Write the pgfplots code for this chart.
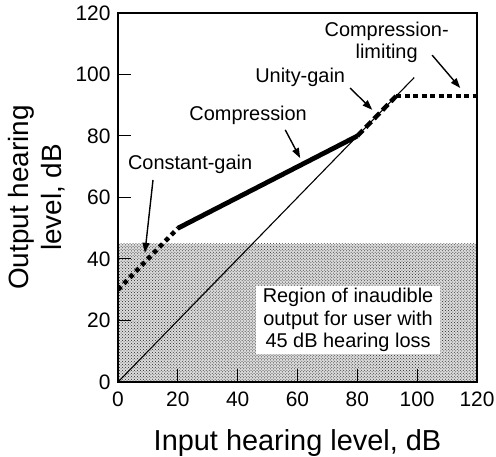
\documentclass[border=0pt]{standalone}
\usepackage{fontspec}
\setmainfont{Liberation Sans}
\usepackage{pgfplots}
\pgfplotsset{compat=1.18}
\usetikzlibrary{patterns,arrows.meta}

\begin{document}
\begin{tikzpicture}
\path[use as bounding box] (-118bp,-75bp) rectangle (378bp,382bp);
\begin{axis}[
  at={(0,0)}, anchor=south west,
  scale only axis, width=359bp, height=369bp,
  xmin=0, xmax=120, ymin=0, ymax=120,
  xtick={0,20,...,120}, ytick={0,20,...,120},
  tick pos=left, tick align=inside,
  major tick length=13bp,
  axis on top,
  axis line style={line width=1.2bp},
  every tick/.style={line width=1bp, black},
  /pgf/number format/assume math mode=true,
  ticklabel style={font=\fontsize{21}{24}\selectfont},
  xticklabel style={yshift=-6bp},
  yticklabel style={xshift=-4bp},
  xlabel={Input hearing level, dB},
  xlabel style={font=\fontsize{29}{33}\selectfont, at={(axis description cs:0.5,-0.1653)}, anchor=center},
  ylabel={Output hearing\\level, dB},
  ylabel style={font=\fontsize{28}{33}\selectfont, align=center, at={(axis description cs:-0.227,0.5)}, anchor=center},
]
% output levels below 45 dB are inaudible for the user: light tint plus stipple
\addplot[draw=none, fill=black!14] coordinates {(0,45) (120,45)} \closedcycle;
\addplot[draw=none, pattern=crosshatch dots, pattern color=black!85] coordinates {(0,45) (120,45)} \closedcycle;

% unity line (output = input)
\addplot[line width=1.1bp] coordinates {(0,0) (99,99)};

% constant-gain segment
\addplot[line width=4.5bp, dash pattern=on 4.5bp off 4bp] coordinates {(0,30) (20,50)};
% compression segment
\addplot[line width=4.8bp] coordinates {(20,50) (80,80)};
% unity-gain segment
\addplot[line width=4.5bp, dash pattern=on 8bp off 4bp] coordinates {(80,80) (93,93)};
% compression-limiting segment
\addplot[line width=4bp, dash pattern=on 5bp off 3.5bp] coordinates {(93,93) (120,93)};

% annotations
\tikzset{lbl/.style={font=\fontsize{20}{22.5}\selectfont, inner sep=1bp},
         arr/.style={-{Triangle[length=10bp,width=7bp]}, line width=1.4bp}}
\node[lbl] at (axis cs:24.1,70.9) {Constant-gain};
\draw[arr] (axis cs:11.7,65.7) -- (axis cs:9,42);
\node[lbl] at (axis cs:43.5,86.8) {Compression};
\draw[arr] (axis cs:55.9,82) -- (axis cs:60.9,72.8);
\node[lbl] at (axis cs:60.9,99.2) {Unity-gain};
\draw[arr] (axis cs:77.6,95.6) -- (axis cs:85,88.5);
\node[lbl, align=center] at (axis cs:89.8,110.5) {Compression-\\limiting};
\draw[arr] (axis cs:105,106.3) -- (axis cs:114.4,95.6);

\node[lbl, fill=white, align=center, inner xsep=7bp, inner ysep=2bp] at (axis cs:76.9,20.2)
  {Region of inaudible\\output for user with\\45 dB hearing loss};
\end{axis}
\end{tikzpicture}
\end{document}
